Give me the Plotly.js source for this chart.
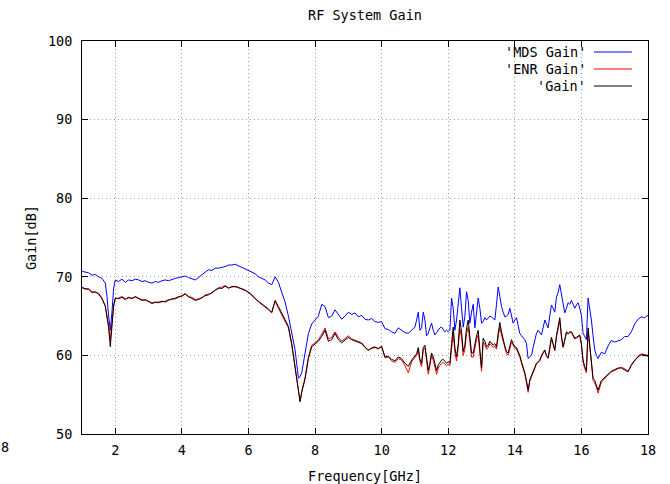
<!DOCTYPE html>
<html>
<head>
<meta charset="utf-8">
<script src="https://cdn.plot.ly/plotly-3.0.1.min.js"></script>
<style>html,body{margin:0;padding:0;background:#fff;}#chart{width:670px;height:484px;}</style>
</head>
<body>
<div id="chart"></div>
<script>
// Frequency in GHz (shared x values)
const freq = [
  1.0,1.1,1.2,1.3,1.4,1.5,1.6,1.7,1.75,1.8,
  1.85,1.9,1.95,2.0,2.1,2.2,2.3,2.4,2.5,2.6,
  2.7,2.8,2.9,3.0,3.1,3.2,3.3,3.4,3.5,3.6,
  3.7,3.8,3.9,4.0,4.1,4.2,4.3,4.4,4.5,4.6,
  4.7,4.8,4.9,5.0,5.1,5.2,5.3,5.4,5.5,5.6,
  5.7,5.8,5.9,6.0,6.1,6.2,6.3,6.4,6.5,6.6,
  6.7,6.8,6.9,7.0,7.1,7.2,7.3,7.4,7.5,7.55,
  7.6,7.7,7.8,7.9,8.0,8.1,8.2,8.3,8.4,8.5,
  8.6,8.7,8.8,8.9,9.0,9.1,9.2,9.3,9.4,9.5,
  9.6,9.7,9.8,9.9,10.0,10.1,10.2,10.3,10.4,10.5,
  10.6,10.7,10.8,10.9,11.0,11.05,11.1,11.15,11.2,11.25,
  11.3,11.35,11.4,11.45,11.5,11.55,11.6,11.65,11.7,11.75,
  11.8,11.85,11.9,11.95,12.0,12.05,12.1,12.15,12.2,12.25,
  12.3,12.35,12.4,12.45,12.5,12.55,12.6,12.65,12.7,12.75,
  12.8,12.85,12.9,12.95,13.0,13.05,13.1,13.15,13.2,13.25,
  13.3,13.35,13.4,13.45,13.5,13.55,13.6,13.65,13.7,13.75,
  13.8,13.85,13.9,13.95,14.0,14.05,14.1,14.15,14.2,14.25,
  14.3,14.35,14.4,14.45,14.5,14.55,14.6,14.65,14.7,14.75,
  14.8,14.85,14.9,14.95,15.0,15.05,15.1,15.15,15.2,15.25,
  15.3,15.35,15.4,15.45,15.5,15.55,15.6,15.65,15.7,15.75,
  15.8,15.85,15.9,15.95,16.0,16.05,16.1,16.15,16.2,16.25,
  16.3,16.35,16.4,16.45,16.5,16.6,16.7,16.8,16.9,17.0,
  17.1,17.2,17.3,17.4,17.5,17.6,17.7,17.8,17.9,18.0
];

// 'MDS Gain' [dB]
const mdsGain = [
  70.7,70.6,70.5,70.2,70.3,70.0,69.8,69.2,67.5,65.0,
  63.2,65.5,68.5,69.6,69.4,69.7,69.3,69.6,69.5,69.7,
  69.6,69.4,69.5,69.3,69.2,69.4,69.3,69.5,69.6,69.5,
  69.7,69.8,69.9,70.0,70.1,69.9,69.7,69.6,69.9,70.3,
  70.6,70.9,70.8,71.1,71.1,71.2,71.3,71.5,71.5,71.6,
  71.4,71.3,71.0,70.9,70.6,70.4,70.0,69.8,69.6,69.2,
  69.0,70.0,69.3,68.0,66.8,65.0,63.0,60.7,57.1,57.3,
  57.8,60.3,62.8,64.0,64.5,65.0,66.5,66.2,64.8,65.0,
  65.8,65.2,64.6,65.0,65.5,65.2,65.4,64.9,65.1,64.6,
  64.5,64.7,64.3,64.2,64.3,63.4,63.3,63.0,62.8,63.5,
  63.2,62.9,62.8,63.2,63.6,64.5,65.5,63.2,63.5,65.5,
  64.5,62.5,62.8,63.5,64.1,63.2,62.6,62.9,63.3,63.5,
  63.6,63.3,63.0,63.2,63.0,63.2,67.3,66.0,63.2,64.5,
  66.5,68.6,66.0,63.6,65.0,68.1,67.0,64.1,65.5,66.5,
  63.5,65.5,67.3,66.0,64.1,64.3,64.8,64.5,64.8,65.0,
  64.9,64.7,64.5,66.5,68.7,67.5,66.2,65.5,64.9,65.0,
  65.2,66.0,65.0,64.1,64.5,64.8,63.8,62.8,62.5,62.3,
  62.0,61.5,59.6,59.8,60.0,61.0,62.0,62.8,63.2,62.8,
  62.6,63.5,64.5,64.0,63.5,65.0,66.4,66.0,65.5,67.4,
  68.0,69.0,67.7,66.5,65.4,66.0,66.7,66.5,67.0,66.5,
  66.0,66.4,66.7,66.0,65.1,62.8,62.4,62.0,67.3,66.0,
  64.5,62.5,60.7,60.0,59.6,60.4,60.2,61.2,61.9,61.7,
  61.9,62.0,62.4,62.4,63.0,64.0,64.6,64.9,64.8,65.1
];

// 'ENR Gain' [dB]
const enrGain = [
  68.7,68.4,68.5,68.1,68.0,67.9,67.3,66.2,65.0,63.8,
  62.0,64.0,66.4,67.2,67.3,67.5,67.2,67.3,67.3,67.4,
  67.2,67.1,67.0,66.9,66.7,66.7,66.8,66.8,66.9,67.1,
  67.1,67.3,67.5,67.5,67.9,67.4,67.4,67.1,67.2,67.3,
  67.7,67.8,67.9,68.3,68.5,68.6,68.9,68.5,68.8,68.7,
  68.7,68.4,68.2,68.1,67.6,67.3,66.8,66.5,66.1,65.8,
  65.4,66.9,66.0,65.2,64.4,63.5,61.3,58.6,55.4,54.2,
  55.4,57.2,59.8,61.3,61.6,62.0,62.7,63.5,62.1,62.3,
  63.0,62.3,61.8,62.2,62.5,62.1,61.9,61.8,61.6,61.1,
  60.6,61.0,61.1,60.8,61.2,59.7,59.8,59.3,59.1,59.6,
  59.4,58.7,57.8,59.2,59.8,60.0,60.7,59.2,58.6,60.7,
  61.0,59.1,57.6,58.7,60.0,59.4,58.4,57.6,58.4,58.8,
  59.0,59.1,58.9,58.7,58.9,58.7,60.8,62.8,60.4,59.3,
  61.0,63.4,62.3,60.0,60.8,62.8,63.6,61.5,59.8,59.8,
  61.0,62.0,62.6,60.5,58.0,61.7,61.4,60.8,61.0,61.5,
  61.3,61.0,61.2,60.8,62.3,63.6,62.6,61.7,61.0,60.2,
  60.0,60.9,61.7,61.3,60.9,60.8,60.4,59.8,59.0,58.4,
  57.6,56.5,55.3,56.7,57.3,57.9,58.4,58.9,59.1,59.3,
  59.9,60.2,60.6,59.9,59.6,60.8,62.1,61.4,60.6,62.3,
  63.5,64.4,62.3,61.0,61.9,62.9,62.7,62.9,62.9,62.5,
  62.1,62.2,62.4,62.5,61.3,59.1,58.3,57.8,63.0,61.2,
  59.1,56.8,56.5,56.0,55.2,56.6,57.1,57.5,57.9,58.1,
  58.3,58.5,58.3,58.0,58.7,59.3,59.9,60.2,60.1,60.0
];

// 'Gain' [dB]
const gain = [
  68.6,68.5,68.4,68.0,68.1,67.8,67.2,66.3,64.8,63.5,
  61.1,63.8,66.3,67.3,67.2,67.4,67.1,67.4,67.2,67.5,
  67.3,67.0,67.1,66.8,66.6,66.8,66.7,66.9,66.8,67.0,
  67.2,67.2,67.4,67.6,67.8,67.5,67.3,67.0,67.1,67.4,
  67.6,67.7,68.0,68.2,68.6,68.5,68.8,68.6,68.7,68.8,
  68.6,68.5,68.3,68.0,67.7,67.2,66.9,66.6,66.2,65.9,
  65.5,67.0,66.2,65.3,64.5,63.7,61.5,58.8,55.5,54.1,
  55.3,57.0,59.6,61.1,61.4,61.8,62.4,63.2,61.8,62.0,
  62.8,62.0,61.6,62.0,62.3,62.0,61.8,61.6,61.5,61.0,
  60.7,60.9,61.0,60.9,61.1,59.8,59.9,59.5,59.3,59.8,
  59.6,59.0,58.6,59.4,60.0,60.2,61.0,59.5,59.0,61.0,
  61.3,59.5,58.1,59.0,60.3,59.8,58.8,58.1,58.8,59.2,
  59.4,59.5,59.2,59.0,59.2,59.0,61.5,63.6,61.0,59.8,
  61.5,64.5,63.0,60.5,61.3,63.5,64.5,62.0,60.3,60.3,
  61.5,62.5,63.2,61.0,58.4,62.2,61.8,61.1,61.3,61.8,
  61.6,61.3,61.5,61.1,62.8,64.2,63.0,62.0,61.2,60.5,
  60.3,61.2,62.0,61.5,61.1,61.0,60.6,60.0,59.2,58.6,
  57.8,56.8,55.6,56.9,57.5,58.0,58.5,59.0,59.2,59.4,
  60.0,60.3,60.7,60.0,59.7,61.0,62.3,61.5,60.7,62.5,
  63.8,64.8,62.5,61.1,62.0,63.0,62.8,63.0,63.0,62.6,
  62.2,62.3,62.5,62.6,61.5,59.4,58.6,58.1,63.5,61.5,
  59.4,57.1,56.8,56.3,55.6,56.8,57.2,57.6,58.0,58.2,
  58.4,58.4,58.2,57.9,58.8,59.4,59.8,60.1,60.0,59.9
];

const seriesNames = ["'MDS Gain'", "'ENR Gain'", "'Gain'"];
const seriesColors = ['#0000ff', '#ff0000', '#000000'];
const seriesData = [mdsGain, enrGain, gain];

const FONT = 'DejaVu Sans Mono, Liberation Mono, monospace';
const FS = 13.5;

const traces = seriesData.map((ys, i) => ({
  type: 'scatter', mode: 'lines', name: seriesNames[i],
  x: freq, y: ys,
  line: {color: seriesColors[i], width: 1},
  showlegend: false, hoverinfo: 'skip'
}));

// gnuplot-style key: right-aligned text followed by line sample
const legendRowsPx = [52, 69, 86];
const plotL = 82, plotR = 648, plotT = 41, plotB = 434;
const pw = plotR - plotL, ph = plotB - plotT;
const annotations = seriesNames.map((n, i) => ({
  xref: 'paper', yref: 'paper',
  x: (588 - plotL) / pw, y: (plotB - legendRowsPx[i]) / ph,
  xanchor: 'right', yanchor: 'middle', showarrow: false,
  text: n, font: {family: FONT, size: FS, color: '#000'}
}));
annotations.push({
  xref: 'paper', yref: 'paper', x: (5 - plotL) / pw, y: (plotB - 447) / ph,
  xanchor: 'center', yanchor: 'middle', showarrow: false,
  text: '8', font: {family: FONT, size: FS, color: '#000'}
});
const shapes = seriesColors.map((c, i) => ({
  type: 'line', xref: 'paper', yref: 'paper',
  x0: (594 - plotL) / pw, x1: (632 - plotL) / pw,
  y0: (plotB - legendRowsPx[i]) / ph, y1: (plotB - legendRowsPx[i]) / ph,
  line: {color: c, width: 1}
}));

const axisCommon = {
  showline: true, linecolor: '#000', linewidth: 1, mirror: 'ticks',
  ticks: 'inside', ticklen: 6, tickcolor: '#000', tickwidth: 1,
  showgrid: true, gridcolor: '#a0a0a0', griddash: '1px,3px', gridwidth: 1,
  zeroline: false, tickfont: {family: FONT, size: FS, color: '#000'}
};

const layout = {
  width: 670, height: 484,
  margin: {l: plotL, r: 670 - plotR, t: plotT, b: 484 - plotB, pad: 0},
  paper_bgcolor: '#fff', plot_bgcolor: '#fff',
  font: {family: FONT, size: FS, color: '#000'},
  title: {text: 'RF System Gain', x: 0.5, xref: 'paper', xanchor: 'center',
          y: 1 - 15 / 484, yanchor: 'middle', font: {family: FONT, size: FS, color: '#000'}},
  xaxis: Object.assign({}, axisCommon, {
    range: [1, 18], tick0: 0, dtick: 2, ticklabelstandoff: 4,
    title: {text: 'Frequency[GHz]', standoff: 14, font: {family: FONT, size: FS, color: '#000'}}
  }),
  yaxis: Object.assign({}, axisCommon, {
    range: [50, 100], tick0: 50, dtick: 10, ticklabelstandoff: 6,
    title: {text: 'Gain[dB]', standoff: 8, font: {family: FONT, size: FS, color: '#000'}}
  }),
  annotations: annotations,
  shapes: shapes
};

Plotly.newPlot('chart', traces, layout, {staticPlot: true, displayModeBar: false});
</script>
</body>
</html>
